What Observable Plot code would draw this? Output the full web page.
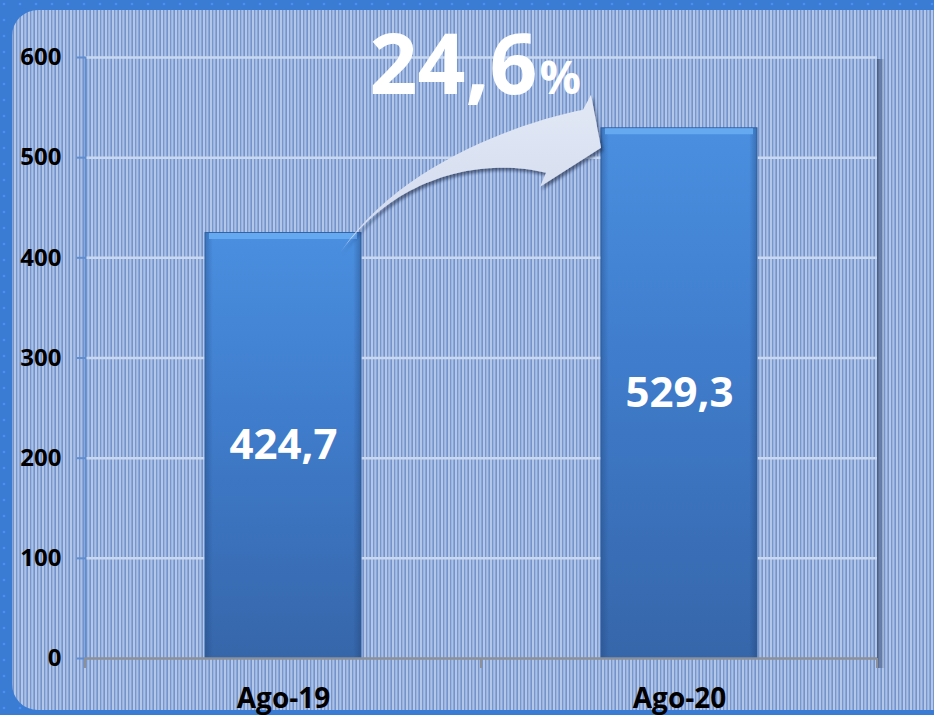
<!DOCTYPE html>
<html><head><meta charset="utf-8">
<script src="https://cdn.jsdelivr.net/npm/d3@7"></script>
<script src="https://cdn.jsdelivr.net/npm/@observablehq/plot@0.6"></script>
<style>
html,body{margin:0;padding:0;background:#3b7fd5;}
#chart svg{display:block}
</style>
</head><body><div id="chart"></div>
<script>
// ---- data ----
const categories = ["Ago-19", "Ago-20"];
const values = [424.7, 529.3];
const valueLabels = ["424,7", "529,3"];
const yTicks = [0, 100, 200, 300, 400, 500, 600];
const growthLabel = "24,6";
const growthUnit = "%";

const data = categories.map((c, i) => ({cat: c, value: values[i], label: valueLabels[i]}));
const font = "'Open Sans', sans-serif";

const plot = Plot.plot({
  width: 934, height: 715,
  marginLeft: 85, marginRight: 57, marginTop: 57, marginBottom: 57,
  style: {background: "none", fontFamily: font, overflow: "visible"},
  x: {domain: categories, paddingInner: 0.606, paddingOuter: 0.303, label: null},
  y: {domain: [0, 600], label: null},
  marks: [
    Plot.ruleY(yTicks.filter(t => t > 0), {stroke: "#c9d8f1", strokeWidth: 2.5}),
    Plot.frame({anchor: "left", stroke: "#5f8dd0", strokeWidth: 2}),
    Plot.axisY(yTicks, {tickSize: 8, tickPadding: 16, stroke: "#5f8dd0", strokeWidth: 2, fill: "#000", fontSize: 24, fontWeight: "bold", fontFamily: font}),
    Plot.axisX({tickSize: 0, tickPadding: 30, fill: "#000", fontSize: 28, fontWeight: "bold", fontFamily: font}),
    Plot.barY(data, {x: "cat", y: "value", fill: "url(#barGrad)", ariaLabel: "bars"}),
    Plot.barY(data, {x: "cat", y: "value", fill: "url(#edgeGrad)", stroke: "#2f5e9f", strokeWidth: 1, ariaLabel: "baredges"}),
    Plot.tickY(data, {x: "cat", y: "value", stroke: "#65a9f1", strokeWidth: 6, dy: 3, insetLeft: 4, insetRight: 4}),
    Plot.ruleY([0], {stroke: "#8c9099", strokeWidth: 2.5}),
    Plot.text(data, {x: "cat", y: d => d.value / 2, text: "label", fill: "white", fontSize: 42, fontWeight: "bold", fontFamily: font, ariaLabel: "values"}),
    Plot.text([growthLabel], {frameAnchor: "top", text: d => d, textAnchor: "end", lineAnchor: "bottom", dx: 56, dy: 36, fill: "white", fontSize: 84, fontWeight: "bold", fontFamily: font, ariaLabel: "growth"}),
    Plot.text([growthUnit], {frameAnchor: "top", text: d => d, textAnchor: "start", lineAnchor: "bottom", dx: 58, dy: 36, fill: "white", fontSize: 46, fontWeight: "bold", fontFamily: font, ariaLabel: "growth"})
  ]
});
document.getElementById("chart").appendChild(plot);

// ---- decoration (background, gradients, arrow) ----
const svg = d3.select(plot);
const defs = svg.insert("defs", ":first-child");

const dots = defs.append("pattern").attr("id", "dots").attr("width", 16).attr("height", 16).attr("patternUnits", "userSpaceOnUse");
dots.append("rect").attr("width", 16).attr("height", 16).attr("fill", "#3a7cd4");
dots.append("circle").attr("cx", 4).attr("cy", 4).attr("r", 1.3).attr("fill", "#4b8ff0");

const stripes = defs.append("pattern").attr("id", "stripes").attr("width", 7).attr("height", 10).attr("patternUnits", "userSpaceOnUse");
stripes.append("rect").attr("width", 7).attr("height", 10).attr("fill", "#89a6d9");
stripes.append("rect").attr("x", 0).attr("width", 2).attr("height", 10).attr("fill", "#b3c7e8");
stripes.append("rect").attr("x", 2).attr("width", 1).attr("height", 10).attr("fill", "#7895cc");
stripes.append("rect").attr("x", 3.5).attr("width", 1.5).attr("height", 10).attr("fill", "#abc0e5");
stripes.append("rect").attr("x", 6).attr("width", 1).attr("height", 10).attr("fill", "#7592ca");

const bg = defs.append("linearGradient").attr("id", "barGrad").attr("x1", 0).attr("y1", 0).attr("x2", 0).attr("y2", 1);
bg.append("stop").attr("offset", "0%").attr("stop-color", "#4a8fe0");
bg.append("stop").attr("offset", "45%").attr("stop-color", "#3f7ccb");
bg.append("stop").attr("offset", "100%").attr("stop-color", "#3666aa");

const eg = defs.append("linearGradient").attr("id", "edgeGrad").attr("x1", 0).attr("y1", 0).attr("x2", 1).attr("y2", 0);
eg.append("stop").attr("offset", "0%").attr("stop-color", "#1e3f70").attr("stop-opacity", 0.35);
eg.append("stop").attr("offset", "5%").attr("stop-color", "#1e3f70").attr("stop-opacity", 0);
eg.append("stop").attr("offset", "95%").attr("stop-color", "#1e3f70").attr("stop-opacity", 0);
eg.append("stop").attr("offset", "100%").attr("stop-color", "#1e3f70").attr("stop-opacity", 0.4);

const wall = defs.append("linearGradient").attr("id", "wallGrad").attr("x1", 0).attr("y1", 0).attr("x2", 1).attr("y2", 0);
wall.append("stop").attr("offset", "0%").attr("stop-color", "#3f5277").attr("stop-opacity", 0.85);
wall.append("stop").attr("offset", "100%").attr("stop-color", "#3f5277").attr("stop-opacity", 0);

const ag = defs.append("linearGradient").attr("id", "arrowGrad").attr("x1", 0).attr("y1", 0).attr("x2", 0).attr("y2", 1);
ag.append("stop").attr("offset", "0%").attr("stop-color", "#e2e8f5");
ag.append("stop").attr("offset", "100%").attr("stop-color", "#d0d9ed");

const sh = defs.append("filter").attr("id", "barShadow").attr("x", "-10%").attr("y", "-10%").attr("width", "130%").attr("height", "130%");
sh.append("feDropShadow").attr("dx", 4).attr("dy", 2).attr("stdDeviation", 2).attr("flood-color", "#0a1a3a").attr("flood-opacity", 0.5);
const tsh = defs.append("filter").attr("id", "textShadow").attr("x", "-10%").attr("y", "-10%").attr("width", "130%").attr("height", "140%");
tsh.append("feDropShadow").attr("dx", 2).attr("dy", 3).attr("stdDeviation", 1.5).attr("flood-color", "#0a1a3a").attr("flood-opacity", 0.55);

// background layers
const back = svg.insert("g", "defs + *");
back.append("rect").attr("width", 934).attr("height", 715).attr("fill", "url(#dots)");
back.append("rect").attr("x", 12).attr("y", 10).attr("width", 950).attr("height", 700).attr("rx", 26).attr("fill", "url(#stripes)");

const xs = plot.scale("x"), ys = plot.scale("y");
const bw = xs.bandwidth;
const [r0, r1] = xs.range;
const y0 = ys.apply(0), yTop = ys.apply(600);

// right wall shadow
back.append("rect").attr("x", r1).attr("y", yTop + 2).attr("width", 8).attr("height", y0 - yTop + 8).attr("fill", "url(#wallGrad)");

// category boundary ticks below baseline
const b0 = xs.apply(categories[0]), b1 = xs.apply(categories[1]);
const mids = [r0, (b0 + bw + b1) / 2, r1];
const tickG = svg.append("g").attr("stroke", "#8c9099").attr("stroke-width", 2);
mids.forEach(m => tickG.append("line").attr("x1", m).attr("x2", m).attr("y1", y0).attr("y2", y0 + 10));

// arrow from top of first bar to top of second bar (over bar 1, tip at bar 2 edge)
const S = [b0 + bw, ys.apply(values[0])];
const E = [b1, ys.apply(values[1])];
const pS = (dx, dy) => [S[0] + dx, S[1] + dy];
const pE = (dx, dy) => [E[0] + dx, E[1] + dy];
const tail = pS(-20, 19);
const path = `M${tail} C${pS(40, -70)} ${pE(-78, -6)} ${pE(-18, -18)} ` +
  `L${pE(-10, -33)} L${pE(0, 20)} L${pE(-61, 59)} L${pE(-55, 45)} ` +
  `C${pE(-108, 32)} ${pS(42, -65)} ${tail} Z`;
const valuesNode = svg.select('g[aria-label="values"]').node();
svg.insert("path", () => valuesNode).attr("d", path).attr("fill", "url(#arrowGrad)").attr("filter", "url(#textShadow)");

svg.select('g[aria-label="bars"]').attr("filter", "url(#barShadow)");
svg.selectAll('g[aria-label="values"], g[aria-label="growth"]').attr("filter", "url(#textShadow)");
</script>
</body></html>
